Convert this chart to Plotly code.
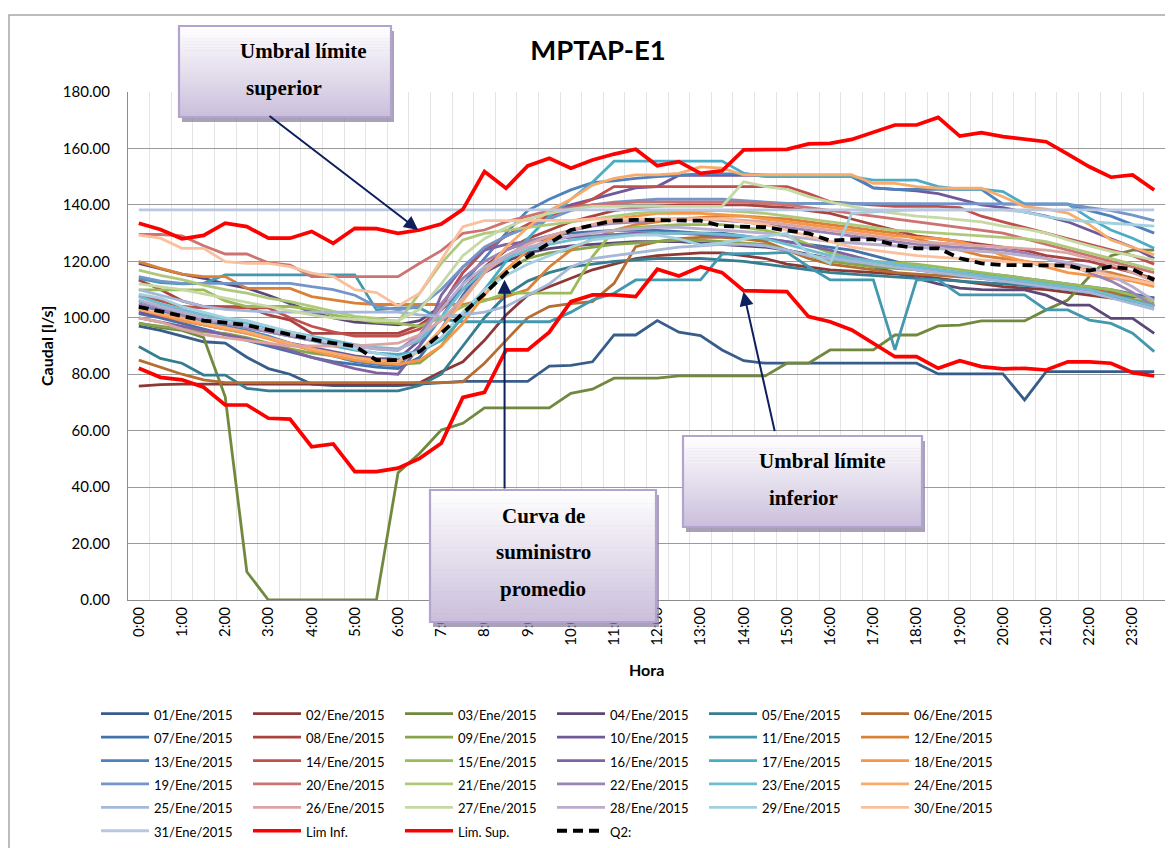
import plotly.graph_objects as go

# ---------------- data ----------------
HORAS = ["0:00", "0:30", "1:00", "1:30", "2:00", "2:30", "3:00", "3:30",
         "4:00", "4:30", "5:00", "5:30", "6:00", "6:30", "7:00", "7:30",
         "8:00", "8:30", "9:00", "9:30", "10:00", "10:30", "11:00", "11:30",
         "12:00", "12:30", "13:00", "13:30", "14:00", "14:30", "15:00", "15:30",
         "16:00", "16:30", "17:00", "17:30", "18:00", "18:30", "19:00", "19:30",
         "20:00", "20:30", "21:00", "21:30", "22:00", "22:30", "23:00", "23:30"]
TICK_LABELS = [h if h.endswith(":00") else "" for h in HORAS]

DIAS = ["%02d/Ene/2015" % d for d in range(1, 32)]

Q01 = [97.0, 95.5, 93.5, 91.5, 91.0, 86.0, 82.0, 80.0,
       76.5, 76.0, 76.0, 76.0, 76.0, 76.5, 77.0, 77.5,
       77.5, 77.5, 77.5, 82.9, 83.1, 84.4, 93.9, 93.9,
       99.0, 94.9, 93.7, 88.6, 84.8, 83.9, 83.9, 83.9,
       83.9, 83.9, 83.9, 83.9, 83.9, 80.1, 80.1, 80.1,
       80.1, 70.9, 80.9, 80.9, 80.9, 80.9, 80.9, 80.9]
Q02 = [75.8, 76.3, 76.5, 76.5, 76.5, 76.5, 76.5, 76.5,
       76.5, 76.5, 76.5, 76.5, 76.5, 77.0, 80.9, 84.4,
       92.0, 101.0, 108.0, 111.0, 114.0, 117.0, 119.0, 121.0,
       122.0, 122.5, 123.0, 123.0, 122.0, 121.0, 119.0, 118.0,
       117.0, 116.5, 116.0, 115.5, 115.0, 114.0, 113.0, 112.0,
       111.0, 110.5, 110.0, 109.0, 108.0, 107.0, 106.0, 104.5]
Q03 = [98.1, 96.5, 95.5, 93.0, 72.0, 10.0, 0.0, 0.0,
       0.0, 0.0, 0.0, 0.0, 45.1, 52.0, 60.2, 62.6,
       68.1, 68.1, 68.1, 68.1, 73.2, 74.7, 78.6, 78.6,
       78.6, 79.4, 79.4, 79.4, 79.4, 79.4, 83.9, 83.9,
       88.6, 88.6, 88.6, 93.9, 93.9, 97.1, 97.4, 98.9,
       98.9, 98.9, 102.8, 106.3, 114.6, 122.0, 124.0, 124.0]
Q04 = [119.3, 117.5, 115.5, 114.0, 112.0, 110.5, 108.0, 105.0,
       102.0, 100.0, 98.5, 98.0, 97.5, 99.0, 104.0, 110.0,
       116.0, 120.0, 123.0, 124.5, 125.5, 126.0, 126.5, 127.0,
       127.0, 127.0, 126.5, 126.0, 125.5, 125.0, 124.0, 122.5,
       121.0, 120.0, 118.0, 116.0, 114.0, 112.0, 110.5, 110.0,
       109.9, 109.9, 108.0, 104.5, 104.5, 99.8, 99.8, 94.5]
Q05 = [89.8, 85.6, 83.9, 79.7, 79.7, 75.0, 74.1, 74.1,
       74.1, 74.1, 74.1, 74.1, 74.1, 76.0, 80.0, 90.0,
       100.0, 108.0, 113.0, 116.0, 118.0, 119.0, 120.0, 120.5,
       121.0, 121.0, 121.0, 120.5, 120.0, 119.0, 118.0, 117.0,
       116.0, 115.5, 115.0, 114.5, 114.0, 113.5, 113.0, 112.5,
       112.0, 111.5, 111.0, 110.0, 109.0, 108.0, 107.5, 107.0]
Q06 = [85.0, 82.5, 80.0, 78.0, 77.0, 77.0, 77.0, 77.0,
       77.0, 77.0, 77.0, 77.0, 77.0, 77.0, 77.0, 77.3,
       83.9, 92.0, 100.0, 104.0, 105.0, 105.7, 112.2, 125.2,
       127.0, 128.0, 128.5, 128.5, 128.0, 127.0, 124.0, 121.0,
       119.0, 118.0, 117.0, 116.0, 115.5, 115.0, 114.5, 114.0,
       113.5, 113.0, 112.0, 111.0, 110.0, 109.0, 108.0, 107.0]
Q07 = [101.5, 100.0, 98.0, 96.0, 94.0, 92.0, 90.0, 88.0,
       86.0, 84.5, 83.5, 82.5, 82.0, 86.0, 96.0, 108.0,
       118.0, 124.0, 127.0, 129.0, 130.0, 130.5, 131.0, 131.0,
       131.0, 130.5, 130.0, 130.0, 129.0, 128.0, 127.0, 126.0,
       125.0, 124.0, 122.0, 120.0, 118.0, 117.0, 116.0, 115.5,
       115.0, 114.0, 113.0, 112.0, 111.0, 110.0, 108.5, 107.0]
Q08 = [113.4, 110.0, 106.0, 104.0, 103.9, 103.9, 101.0, 99.2,
       94.5, 94.5, 94.5, 94.5, 94.5, 97.4, 102.8, 110.0,
       118.0, 124.0, 128.0, 131.0, 134.0, 136.0, 138.0, 139.0,
       139.5, 140.0, 140.0, 140.0, 140.0, 139.5, 139.0, 138.0,
       137.0, 135.0, 133.0, 131.0, 129.0, 128.0, 127.0, 126.0,
       125.0, 124.0, 122.0, 121.0, 120.0, 118.0, 116.0, 114.0]
Q09 = [98.0, 97.0, 96.0, 95.0, 94.5, 93.0, 91.0, 89.0,
       87.5, 86.5, 85.0, 84.0, 83.5, 84.0, 90.0, 101.0,
       110.0, 117.0, 121.0, 123.0, 124.0, 125.0, 126.0, 126.5,
       127.0, 127.5, 127.5, 127.0, 126.5, 126.0, 124.0, 122.0,
       120.0, 119.0, 118.0, 117.5, 117.0, 116.5, 116.0, 115.0,
       114.0, 113.0, 112.0, 111.0, 110.0, 108.0, 106.5, 105.0]
Q10 = [102.0, 100.5, 99.0, 97.5, 96.0, 94.5, 93.0, 91.0,
       89.5, 88.0, 86.5, 85.5, 85.5, 92.0, 104.0, 116.0,
       124.0, 129.0, 133.0, 137.0, 140.0, 142.0, 144.0, 146.0,
       146.5, 150.5, 150.5, 150.5, 150.5, 150.5, 150.5, 150.5,
       150.5, 150.5, 146.0, 145.5, 145.0, 144.0, 142.0, 140.0,
       139.0, 137.5, 136.0, 134.0, 131.0, 128.0, 125.0, 121.0]
Q11 = [114.0, 112.5, 112.0, 112.2, 115.2, 115.2, 115.2, 115.2,
       115.2, 115.2, 115.2, 102.8, 103.5, 103.5, 99.5, 98.6,
       98.6, 98.6, 98.6, 98.6, 102.0, 106.3, 108.7, 113.4,
       113.4, 113.4, 113.4, 122.6, 122.6, 122.8, 123.2, 118.1,
       113.4, 113.4, 113.4, 88.6, 113.4, 113.4, 108.1, 108.1,
       108.1, 108.1, 102.8, 102.8, 99.2, 98.0, 94.5, 88.0]
Q12 = [119.9, 117.5, 115.5, 114.6, 114.6, 110.4, 110.4, 110.4,
       107.5, 106.3, 105.2, 104.7, 104.7, 104.7, 104.7, 104.7,
       106.3, 107.5, 110.0, 118.0, 124.0, 128.0, 131.0, 133.0,
       134.0, 135.0, 135.5, 136.0, 136.0, 135.5, 135.0, 134.0,
       133.0, 132.0, 131.0, 130.0, 128.0, 126.0, 124.0, 122.0,
       121.0, 120.0, 119.0, 118.0, 117.0, 116.0, 114.0, 112.0]
Q13 = [104.5, 102.5, 100.5, 98.5, 97.0, 95.5, 93.5, 91.0,
       88.5, 86.5, 84.5, 83.5, 83.0, 90.0, 100.0, 112.0,
       121.0, 130.0, 138.0, 142.0, 145.3, 147.9, 148.5, 149.4,
       150.0, 150.5, 151.0, 151.0, 151.0, 150.5, 150.0, 150.0,
       150.0, 150.0, 146.0, 145.5, 145.5, 145.5, 145.5, 145.5,
       140.3, 140.3, 140.3, 140.3, 138.0, 136.0, 133.0, 130.0]
Q14 = [108.0, 106.0, 104.0, 103.5, 103.5, 103.5, 103.5, 100.0,
       97.0, 95.0, 93.5, 93.5, 93.5, 96.0, 104.0, 116.0,
       124.0, 129.0, 133.0, 136.0, 139.0, 142.0, 146.5, 146.5,
       146.5, 146.5, 146.5, 146.5, 146.5, 146.5, 146.5, 144.0,
       141.1, 140.5, 140.0, 139.5, 139.5, 139.5, 139.0, 136.0,
       134.0, 132.0, 130.0, 128.0, 126.0, 124.0, 122.0, 119.0]
Q15 = [109.9, 109.9, 109.9, 109.9, 106.0, 104.0, 104.0, 104.0,
       103.0, 101.0, 99.5, 98.5, 98.0, 97.0, 100.0, 104.0,
       106.0, 108.7, 108.7, 108.7, 108.7, 121.7, 131.0, 132.0,
       132.5, 133.0, 133.0, 133.0, 132.0, 131.0, 129.0, 126.0,
       123.0, 121.0, 120.0, 119.5, 119.0, 118.0, 117.0, 116.0,
       115.0, 114.0, 113.0, 112.0, 111.0, 110.0, 108.0, 106.0]
Q16 = [100.0, 98.5, 97.0, 95.5, 94.0, 92.5, 90.5, 88.5,
       86.0, 84.0, 82.0, 80.5, 80.0, 90.0, 108.0, 118.0,
       124.0, 126.0, 127.0, 128.0, 128.5, 129.0, 129.5, 130.0,
       130.0, 130.0, 129.5, 129.0, 128.5, 128.0, 127.0, 125.5,
       124.0, 122.0, 120.0, 118.5, 117.0, 116.0, 115.0, 114.0,
       113.0, 112.0, 111.0, 110.0, 109.0, 108.0, 106.0, 104.0]
Q17 = [106.0, 104.0, 102.0, 100.0, 98.0, 96.5, 95.0, 93.5,
       92.0, 90.0, 88.5, 87.5, 87.0, 88.0, 92.0, 100.0,
       110.0, 120.0, 128.0, 136.0, 142.0, 148.0, 155.5, 155.5,
       155.5, 155.5, 155.5, 155.5, 151.2, 150.0, 150.0, 150.0,
       150.0, 150.0, 148.8, 148.8, 148.8, 146.5, 145.6, 145.6,
       144.7, 140.3, 140.3, 140.3, 135.3, 131.1, 128.2, 124.6]
Q18 = [103.0, 101.0, 99.0, 97.5, 96.0, 94.5, 92.5, 90.5,
       88.5, 86.5, 85.0, 84.0, 83.5, 85.0, 90.0, 98.0,
       108.0, 117.0, 124.0, 128.0, 131.0, 133.0, 135.0, 136.0,
       137.0, 137.0, 137.0, 136.5, 136.0, 135.0, 134.0, 133.0,
       132.0, 131.0, 130.0, 129.0, 128.5, 128.0, 127.0, 125.0,
       122.0, 120.0, 118.0, 116.0, 115.0, 114.0, 113.0, 111.0]
Q19 = [114.6, 113.0, 112.2, 112.2, 112.2, 112.2, 112.2, 112.2,
       111.0, 110.0, 108.0, 104.0, 102.8, 104.0, 110.0, 118.0,
       125.0, 129.0, 132.0, 135.0, 138.0, 140.0, 141.0, 141.5,
       142.0, 142.0, 142.0, 142.0, 141.5, 141.0, 140.5, 140.5,
       140.5, 140.5, 140.3, 140.3, 140.3, 140.3, 140.3, 140.3,
       140.3, 140.3, 140.3, 140.3, 139.0, 138.0, 136.4, 134.4]
Q20 = [129.5, 129.5, 129.0, 125.5, 122.6, 122.6, 119.5, 118.7,
       114.6, 114.6, 114.6, 114.6, 114.6, 119.3, 123.8, 129.9,
       131.1, 134.0, 136.0, 138.0, 139.0, 140.0, 140.5, 141.0,
       141.0, 141.0, 141.0, 141.0, 141.0, 140.5, 140.0, 139.0,
       138.0, 137.0, 136.0, 135.0, 134.0, 133.0, 132.0, 131.0,
       130.0, 128.0, 126.0, 124.0, 122.0, 120.0, 118.0, 116.0]
Q21 = [116.9, 115.0, 113.5, 111.6, 110.0, 108.7, 107.0, 105.7,
       104.0, 102.2, 100.5, 99.8, 98.6, 108.7, 119.3, 127.6,
       129.9, 131.0, 132.0, 133.0, 134.0, 135.0, 136.0, 137.0,
       137.5, 138.0, 138.0, 138.0, 137.5, 137.0, 136.0, 135.0,
       134.0, 133.0, 132.0, 131.0, 130.5, 130.0, 129.5, 129.0,
       128.5, 128.0, 127.0, 125.0, 123.0, 121.0, 119.0, 117.0]
Q22 = [105.0, 103.0, 101.0, 99.5, 98.0, 96.5, 95.0, 93.5,
       92.0, 91.0, 90.0, 89.0, 88.5, 94.0, 105.0, 114.0,
       120.0, 124.0, 127.0, 129.0, 131.0, 132.5, 133.5, 134.0,
       134.5, 135.0, 135.0, 134.5, 134.0, 133.0, 132.0, 131.0,
       130.0, 129.0, 128.0, 127.0, 126.0, 125.5, 125.0, 124.5,
       124.0, 123.0, 121.0, 119.0, 116.0, 113.0, 109.0, 104.0]
Q23 = [107.5, 105.0, 103.0, 101.0, 99.5, 98.0, 96.5, 95.0,
       93.5, 92.0, 90.5, 89.5, 89.0, 92.0, 100.0, 110.0,
       117.0, 121.0, 124.0, 126.0, 127.5, 128.5, 129.0, 129.5,
       130.0, 130.0, 130.0, 129.5, 129.0, 128.0, 126.0, 124.0,
       122.0, 121.0, 120.0, 119.0, 118.0, 117.0, 116.0, 115.0,
       114.0, 113.0, 112.0, 111.0, 110.0, 108.0, 106.0, 104.0]
Q24 = [103.0, 101.5, 100.0, 98.0, 96.5, 95.0, 93.0, 91.0,
       89.0, 87.5, 86.0, 85.0, 84.5, 88.0, 96.0, 106.0,
       116.0, 125.0, 132.0, 138.0, 142.0, 147.0, 149.4, 150.6,
       150.6, 151.2, 153.5, 153.0, 150.6, 150.6, 150.6, 150.6,
       150.6, 150.6, 147.6, 147.6, 146.5, 145.9, 145.9, 145.9,
       142.9, 139.4, 138.5, 137.1, 133.0, 127.6, 125.0, 122.3]
Q25 = [110.0, 108.0, 106.0, 104.0, 103.0, 102.5, 102.0, 102.0,
       102.0, 102.0, 102.0, 102.0, 102.0, 101.0, 100.5, 101.0,
       102.0, 104.0, 108.0, 112.0, 118.0, 121.0, 122.0, 123.0,
       124.0, 125.0, 125.5, 126.0, 126.0, 125.5, 124.0, 122.0,
       121.0, 120.0, 119.0, 118.0, 117.0, 116.0, 115.0, 114.0,
       113.0, 112.0, 111.0, 110.0, 109.0, 107.0, 105.0, 103.0]
Q26 = [100.0, 98.5, 96.0, 94.0, 93.0, 92.0, 91.0, 90.0,
       90.0, 90.0, 90.0, 90.5, 91.0, 94.0, 99.0, 107.0,
       116.0, 122.0, 126.0, 129.0, 131.0, 133.0, 134.0, 134.5,
       135.0, 135.0, 135.0, 135.0, 134.5, 134.0, 133.0, 132.0,
       131.0, 130.0, 129.0, 128.0, 127.0, 126.5, 126.0, 125.5,
       125.0, 124.5, 124.0, 123.0, 121.0, 119.0, 116.0, 113.0]
Q27 = [112.0, 111.0, 110.0, 108.5, 107.0, 105.5, 104.0, 102.5,
       101.0, 100.0, 99.5, 99.0, 99.0, 103.0, 112.0, 122.0,
       128.0, 132.0, 135.0, 137.0, 138.5, 139.5, 139.5, 139.5,
       139.5, 139.5, 139.5, 139.5, 148.2, 146.5, 145.5, 142.9,
       141.0, 139.6, 138.0, 137.0, 136.0, 135.5, 134.7, 134.0,
       132.5, 131.5, 130.0, 127.6, 125.5, 123.5, 122.0, 120.5]
Q28 = [106.3, 104.0, 102.0, 100.0, 98.5, 97.0, 95.5, 94.0,
       92.5, 91.0, 90.0, 89.0, 88.5, 93.0, 103.0, 112.0,
       118.0, 122.0, 125.0, 127.0, 129.0, 130.0, 131.0, 131.5,
       132.0, 132.0, 131.5, 131.0, 130.5, 130.0, 129.0, 128.0,
       127.0, 126.5, 126.0, 125.5, 125.0, 124.5, 124.0, 123.5,
       123.0, 122.0, 121.0, 119.5, 118.0, 115.0, 111.0, 106.0]
Q29 = [108.4, 107.0, 104.0, 102.0, 100.0, 99.0, 97.0, 95.0,
       93.0, 91.0, 89.0, 87.5, 86.0, 88.0, 93.0, 102.0,
       110.0, 115.0, 119.0, 122.0, 125.0, 127.6, 128.5, 129.3,
       129.3, 128.0, 125.8, 126.5, 128.0, 129.0, 129.9, 122.8,
       119.3, 137.0, 137.5, 138.0, 138.2, 138.2, 138.2, 138.2,
       138.2, 137.5, 135.8, 134.7, 134.0, 133.5, 133.0, 132.5]
Q30 = [129.3, 128.2, 124.6, 124.6, 119.9, 119.3, 119.3, 118.1,
       115.8, 114.6, 110.0, 108.9, 104.2, 108.7, 120.5, 132.3,
       134.4, 134.5, 134.5, 134.5, 134.5, 135.0, 135.0, 135.0,
       135.0, 135.0, 135.0, 135.0, 134.0, 133.0, 131.0, 129.0,
       127.0, 125.0, 124.0, 123.0, 122.0, 121.5, 121.0, 120.5,
       120.0, 119.5, 119.0, 118.0, 116.5, 115.0, 113.5, 112.0]
Q31 = [138.2, 138.2, 138.2, 138.2, 138.2, 138.2, 138.2, 138.2,
       138.2, 138.2, 138.2, 138.2, 138.2, 138.2, 138.2, 138.2,
       138.2, 138.2, 138.2, 138.2, 138.2, 138.2, 138.2, 138.2,
       138.2, 138.2, 138.2, 138.2, 138.2, 138.2, 138.2, 138.2,
       138.2, 138.2, 138.2, 138.2, 138.2, 138.2, 138.2, 138.2,
       138.2, 138.2, 138.2, 138.2, 138.2, 138.2, 138.2, 138.2]

LIM_INF = [82.1, 78.9, 78.0, 75.4, 69.1, 69.1, 64.4, 64.1,
           54.3, 55.3, 45.5, 45.5, 46.7, 50.2, 55.5, 71.8,
           73.6, 88.6, 88.6, 94.9, 105.7, 108.1, 108.1, 107.5,
           117.2, 114.8, 118.1, 116.0, 109.6, 109.6, 109.3, 100.4,
           98.6, 95.7, 91.0, 86.2, 86.2, 82.1, 84.8, 82.7,
           81.9, 82.1, 81.5, 84.4, 84.4, 83.9, 80.5, 79.4]
LIM_SUP = [133.5, 131.3, 128.0, 129.2, 133.5, 132.3, 128.2, 128.2,
           130.6, 126.4, 131.7, 131.6, 129.9, 131.1, 133.2, 138.4,
           151.8, 145.9, 153.8, 156.5, 153.0, 155.9, 158.0, 159.7,
           153.9, 155.3, 151.2, 152.1, 159.5, 159.5, 159.7, 161.6,
           161.8, 163.2, 165.9, 168.3, 168.3, 171.0, 164.4, 165.6,
           164.2, 163.2, 162.4, 158.0, 153.5, 149.8, 150.6, 145.3]
Q2 = [103.9, 102.2, 100.4, 99.0, 98.3, 97.4, 95.7, 93.9,
      92.4, 91.0, 90.0, 85.0, 85.0, 88.0, 94.5, 101.6,
      108.5, 115.9, 121.7, 126.4, 131.1, 132.8, 134.4, 134.7,
      134.7, 134.7, 134.4, 132.5, 132.3, 132.1, 130.9, 129.9,
      127.3, 127.8, 127.8, 125.8, 124.6, 124.6, 121.1, 119.3,
      118.7, 118.7, 118.7, 118.5, 116.7, 118.1, 117.2, 113.4]

SERIES = [Q01, Q02, Q03, Q04, Q05, Q06, Q07, Q08, Q09, Q10, Q11, Q12, Q13, Q14, Q15,
          Q16, Q17, Q18, Q19, Q20, Q21, Q22, Q23, Q24, Q25, Q26, Q27, Q28, Q29, Q30, Q31]

COLORS = ["#385D8A", "#8C3836", "#71893F", "#5C4776", "#357D91", "#B66D31",
          "#4371A9", "#A9433F", "#88A54D", "#71589A", "#4398B0", "#DA8138",
          "#4F81BD", "#C0504D", "#9BBB59", "#8064A2", "#4BACC6", "#F79646",
          "#7395C9", "#CD7371", "#AFC97A", "#9A84B5", "#6EBDD1", "#F9AB6B",
          "#A5B8DA", "#DBA5A3", "#C6D9A4", "#B8ADCC", "#A3D0DE", "#FAC09E",
          "#B9C7E1"]

# ---------------- geometry helpers (page pixels; page body has an 8px margin) ----------------
W, H = 1173, 848
OFF = 8
PL, PR, PT, PB = 128, 1165, 92, 600   # plot area in page pixels


def px(x):
    return (x - PL) / (PR - PL)


def py(y):
    return (PB - y) / (PB - PT)


SANS = "Lato, 'Open Sans', sans-serif"
SERIF = "'Liberation Serif', 'Times New Roman', serif"
LEG = '<span style="font-size:13px">%s</span>'

fig = go.Figure()
for name, vals, col in zip(DIAS, SERIES, COLORS):
    fig.add_trace(go.Scatter(x=HORAS, y=vals, mode="lines", name=LEG % name,
                             line=dict(color=col, width=2.8)))
fig.add_trace(go.Scatter(x=HORAS, y=LIM_INF, mode="lines", name=LEG % "Lim Inf.",
                         line=dict(color="#FF0000", width=3.7)))
fig.add_trace(go.Scatter(x=HORAS, y=LIM_SUP, mode="lines", name=LEG % "Lim. Sup.",
                         line=dict(color="#FF0000", width=3.7)))
fig.add_trace(go.Scatter(x=HORAS, y=Q2, mode="lines", name=LEG % "Q2:",
                         line=dict(color="#000000", width=3.8, dash="10px,6px")))

shapes = []
# outer chart frame
shapes.append(dict(type="rect", xref="paper", yref="paper",
                   x0=px(9), x1=px(1200), y0=py(880), y1=py(15),
                   line=dict(color="#A6A6A6", width=1.5), fillcolor="rgba(0,0,0,0)", layer="below"))

annotations = []

BOXES = [
    # (x0, y0, x1, y1), [(text, cx, cy)]
    ((179, 26, 391, 117), [("Umbral límite", 303, 51), ("superior", 284, 88)]),
    ((430, 490, 656, 622), [("Curva de", 543, 516), ("suministro", 543, 552), ("promedio", 543, 589)]),
    ((683, 436, 922, 527), [("Umbral límite", 822, 461), ("inferior", 803, 498)]),
]
TOP_RGB = (255, 255, 255)
BOT_RGB = (202, 191, 219)
NSTRIP = 30
for (x0, y0, x1, y1), lines in BOXES:
    # shadow
    shapes.append(dict(type="rect", xref="paper", yref="paper", layer="above",
                       x0=px(x0 + 3), x1=px(x1 + 3), y0=py(y1 + 5), y1=py(y0 + 5),
                       line=dict(width=0), fillcolor="rgba(140,130,160,0.75)"))
    hgt = (y1 - y0) / NSTRIP
    for k in range(NSTRIP):
        t = (k + 0.5) / NSTRIP
        r, g, b = [round(TOP_RGB[i] + (BOT_RGB[i] - TOP_RGB[i]) * t) for i in range(3)]
        shapes.append(dict(type="rect", xref="paper", yref="paper", layer="above",
                           x0=px(x0), x1=px(x1), y0=py(y0 + (k + 1) * hgt + 0.6), y1=py(y0 + k * hgt),
                           line=dict(width=0), fillcolor="rgb(%d,%d,%d)" % (r, g, b)))
    shapes.append(dict(type="rect", xref="paper", yref="paper", layer="above",
                       x0=px(x0), x1=px(x1), y0=py(y1), y1=py(y0),
                       line=dict(color="#B3A3CF", width=2.2), fillcolor="rgba(0,0,0,0)"))
    for txt, cx, cy in lines:
        annotations.append(dict(text="<b>%s</b>" % txt, xref="paper", yref="paper",
                                x=px(cx), y=py(cy), xanchor="center", yanchor="middle",
                                showarrow=False, font=dict(family=SERIF, size=21, color="#000000")))

# arrows (tip, tail) in data coordinates (category index, value)
ARROWS = [((12.93, 131.1), (5.98, 171.9)),
          ((16.93, 113.5), (16.93, 39.0)),
          ((27.99, 109.2), (29.45, 59.3))]
for (tx, ty), (ax, ay) in ARROWS:
    annotations.append(dict(text="", x=tx, y=ty, xref="x", yref="y", ax=ax, ay=ay,
                            axref="x", ayref="y", showarrow=True, arrowhead=2,
                            arrowsize=1.4, arrowwidth=2, arrowcolor="#0D1F5C", standoff=0))

# axis titles
annotations.append(dict(text="<b>Caudal [l/s]</b>", xref="paper", yref="paper",
                        x=px(46), y=0.5, textangle=-90, showarrow=False,
                        xanchor="center", yanchor="middle",
                        font=dict(family=SANS, size=16, color="#000000")))
annotations.append(dict(text="<b>Hora</b>", xref="paper", yref="paper",
                        x=0.5, y=py(669), showarrow=False, xanchor="center", yanchor="middle",
                        font=dict(family=SANS, size=16, color="#000000")))

fig.update_layout(
    width=W, height=H,
    margin=dict(l=PL - OFF, r=W - (PR - OFF), t=PT - OFF, b=H - (PB - OFF), autoexpand=False),
    paper_bgcolor="white", plot_bgcolor="white",
    font=dict(family=SANS, color="#000000"),
    title=dict(text="<b>MPTAP-E1</b>", xref="container", yref="container",
               x=(598 - OFF) / W, xanchor="center", y=1 - (50 - OFF) / H, yanchor="middle",
               font=dict(family=SANS, size=27.5, color="#000000")),
    xaxis=dict(type="category", tickmode="array", tickvals=HORAS, ticktext=TICK_LABELS,
               tickangle=-90, tickson="boundaries", showgrid=True, gridcolor="#E4E4E4",
               gridwidth=1, showline=True, linecolor="#8C8C8C", linewidth=1.2,
               ticks="outside", ticklen=6, tickcolor="rgba(0,0,0,0)",
               tickfont=dict(family=SANS, size=15, color="#000000"),
               range=[-0.5, 47.5], fixedrange=True, zeroline=False),
    yaxis=dict(range=[0, 180], dtick=20, tick0=0, tickformat=".2f",
               showgrid=True, gridcolor="#9A9A9A", gridwidth=1.1,
               showline=True, linecolor="#8C8C8C", linewidth=1.2, zeroline=False,
               ticks="outside", ticklen=14, tickcolor="rgba(0,0,0,0)",
               tickfont=dict(family=SANS, size=15, color="#000000"), fixedrange=True),
    legend=dict(orientation="h", xref="container", yref="container",
                x=(96 - OFF) / W, xanchor="left", y=1 - (697 - OFF) / H, yanchor="top",
                entrywidth=89, entrywidthmode="pixels", itemwidth=48,
                font=dict(family=SANS, size=15.7, color="#000000"),
                bgcolor="rgba(0,0,0,0)", traceorder="normal"),
    shapes=shapes,
    annotations=annotations,
    showlegend=True,
)

fig.write_html("out.html", config={"displayModeBar": False})
